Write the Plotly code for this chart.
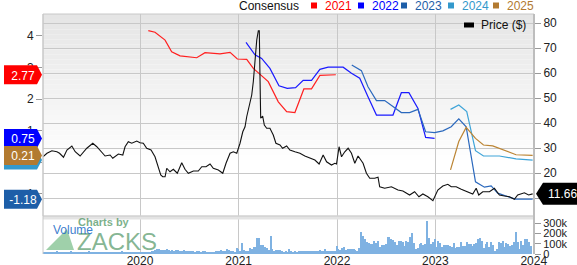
import numpy as np
import pandas as pd
import plotly.graph_objects as go

# ---------------- DATA (times in decimal years) ----------------
eps_2021_t = [2020.084, 2020.152, 2020.254, 2020.321, 2020.406, 2020.575, 2020.659, 2020.811, 2020.913, 2020.987,
              2021.082, 2021.149, 2021.301, 2021.403, 2021.488, 2021.572, 2021.663, 2021.741, 2021.826, 2021.988]
eps_2021_v = [4.17, 4.12, 3.87, 3.50, 3.37, 3.31, 3.47, 3.43, 3.48, 3.27,
              3.26, 2.97, 2.55, 1.91, 1.60, 1.57, 2.32, 2.32, 2.75, 2.77]

eps_2022_t = [2021.075, 2021.166, 2021.234, 2021.318, 2021.410, 2021.494, 2021.579, 2021.656, 2021.741, 2021.826,
              2021.910, 2022.062, 2022.147, 2022.231, 2022.315, 2022.401, 2022.569, 2022.654, 2022.731, 2022.823,
              2022.901, 2022.992]
eps_2022_v = [3.80, 3.40, 3.29, 2.97, 2.42, 2.34, 2.36, 2.59, 2.59, 2.94,
              3.01, 3.01, 2.82, 2.66, 2.07, 1.49, 1.49, 2.20, 2.20, 1.70,
              0.78, 0.75]

eps_2023_t = [2022.150, 2022.248, 2022.315, 2022.401, 2022.485, 2022.654, 2022.738, 2022.823, 2022.901, 2022.992,
              2023.076, 2023.161, 2023.238, 2023.313, 2023.408, 2023.499, 2023.567, 2023.634, 2023.719, 2023.813,
              2023.989]
eps_2023_v = [3.08, 2.90, 2.39, 1.95, 1.95, 1.57, 1.57, 1.67, 0.96, 0.93,
              0.99, 1.12, 1.37, 1.12, -0.63, -0.80, -0.76, -0.99, -1.08, -1.18,
              -1.18]

eps_2024_t = [2023.154, 2023.238, 2023.319, 2023.408, 2023.489, 2023.651, 2023.820, 2023.989]
eps_2024_v = [1.67, 1.81, 1.60, 0.36, 0.19, 0.19, 0.10, 0.06]

eps_2025_t = [2023.154, 2023.238, 2023.313, 2023.408, 2023.489, 2023.583, 2023.820, 2023.989]
eps_2025_v = [-0.25, 0.65, 1.10, 0.75, 0.54, 0.51, 0.23, 0.21]

price_t = [2019.013, 2019.054, 2019.104, 2019.155, 2019.182, 2019.222, 2019.257, 2019.307, 2019.341, 2019.391,
           2019.459, 2019.520, 2019.561, 2019.612, 2019.645, 2019.696, 2019.723, 2019.780, 2019.825, 2019.848,
           2019.881, 2019.916, 2019.967, 2020.000, 2020.033, 2020.068, 2020.112, 2020.152, 2020.186, 2020.210,
           2020.230, 2020.254, 2020.271, 2020.304, 2020.338, 2020.378, 2020.423, 2020.456, 2020.490, 2020.541,
           2020.591, 2020.626, 2020.669, 2020.710, 2020.743, 2020.794, 2020.839, 2020.872, 2020.913, 2020.946,
           2020.981, 2021.014, 2021.042, 2021.065, 2021.082, 2021.109, 2021.133, 2021.149, 2021.166, 2021.184,
           2021.200, 2021.210, 2021.217, 2021.224, 2021.244, 2021.261, 2021.285, 2021.318, 2021.352, 2021.379,
           2021.420, 2021.447, 2021.488, 2021.521, 2021.572, 2021.623, 2021.673, 2021.724, 2021.775, 2021.818,
           2021.859, 2021.894, 2021.944, 2021.978, 2021.995, 2022.021, 2022.046, 2022.079, 2022.113, 2022.147,
           2022.181, 2022.214, 2022.265, 2022.299, 2022.333, 2022.383, 2022.417, 2022.434, 2022.485, 2022.553,
           2022.620, 2022.670, 2022.738, 2022.789, 2022.833, 2022.873, 2022.924, 2022.975, 2023.025, 2023.076,
           2023.127, 2023.161, 2023.212, 2023.263, 2023.330, 2023.380, 2023.415, 2023.441, 2023.482, 2023.550,
           2023.600, 2023.651, 2023.702, 2023.753, 2023.803, 2023.837, 2023.905, 2023.948, 2023.989]
price_v = [26.5, 27.9, 28.9, 28.5, 27.9, 26.3, 29.2, 30.8, 28.5, 26.8,
           29.9, 31.9, 30.5, 28.5, 26.8, 27.2, 25.9, 27.6, 27.2, 30.5,
           32.5, 31.9, 32.8, 32.1, 31.9, 29.9, 29.2, 26.5, 22.5, 19.2,
           18.5, 18.5, 21.9, 20.5, 21.5, 19.9, 24.1, 21.5, 19.9, 20.8,
           20.8, 22.5, 22.5, 23.6, 21.9, 21.2, 19.9, 23.9, 27.9, 28.5,
           27.9, 31.9, 36.5, 38.5, 42.5, 47.9, 51.2, 56.5, 65.2, 73.2,
           76.9, 76.9, 58.5, 41.9, 42.8, 39.2, 37.9, 37.9, 35.2, 31.9,
           31.2, 29.9, 30.8, 29.2, 28.5, 27.9, 26.8, 25.9, 25.2, 23.6,
           27.2, 24.5, 23.2, 23.9, 23.6, 30.5, 26.5, 28.5, 29.9, 27.9,
           23.9, 26.8, 23.9, 19.9, 17.9, 17.9, 18.3, 14.5, 13.9, 14.5,
           13.2, 12.8, 11.2, 12.5, 10.5, 11.6, 10.5, 8.9, 13.2, 14.8,
           15.5, 14.5, 14.5, 13.5, 12.5, 11.6, 13.9, 11.2, 12.5, 12.5,
           13.9, 11.2, 10.8, 10.5, 9.5, 11.2, 12.1, 11.2, 11.66]

# weekly volume (thousands of shares), first week 2019-01-04
volume_start = "2019-01-04"
vol_2019 = [15, 12, 18, 10, 14, 22, 12, 16, 25, 14, 10, 18, 20, 12, 15, 28, 14, 12, 16, 10,
            13, 18, 22, 15, 12, 30, 16, 14, 12, 18, 15, 11, 20, 14, 24, 13, 12, 17, 15, 10,
            14, 19, 26, 13, 15, 12, 18, 22, 16, 14, 12, 15, 20, 13, 17, 14, 12, 18, 25, 30]
vol_2020 = [38, 45, 52, 40, 36, 42, 48, 35, 30, 38, 33, 40, 36, 28, 32, 38, 30, 26, 34, 30,
            28, 24, 30, 26, 22, 28, 25]
vol_2021 = [16, 20, 13, 16, 20, 26, 33, 26, 39, 33, 26, 49, 39, 33, 26, 20, 59, 49, 26, 105,
            39, 26, 33, 59, 49, 72, 65, 157, 157, 88, 88, 72, 59, 39, 180, 49, 33, 39, 39, 39,
            26, 20, 26, 20, 49, 33, 20, 26, 20, 26, 30, 26, 33, 33, 33, 26, 33, 33, 33, 26,
            39, 33, 26, 49, 33, 33, 26, 33, 26, 82, 49, 39, 59, 65, 39, 46, 49, 49, 49, 39,
            33, 59, 212, 180, 147]
vol_2023 = [114, 105, 98, 98, 131, 108, 124, 72, 92, 92, 98, 164, 164, 147, 137, 114, 92, 124, 131, 114,
            82, 124, 114, 164, 209, 105, 49, 62, 98, 108, 88, 95, 320, 154, 98, 114, 147, 65, 124, 108,
            72, 90, 88, 92, 78, 65, 105, 56, 70, 65, 114, 82, 82, 114, 98, 100, 82, 98, 105, 147,
            154, 131, 59, 98, 114, 72, 114, 92, 33, 49, 114, 105, 124, 65, 105, 98, 82, 92, 114, 212,
            114, 49, 131, 92, 147, 147, 120, 82]

eps_ticks = [-1, 0, 1, 2, 3, 4]
price_ticks = [10, 20, 30, 40, 50, 60, 70, 80]
price_tick_labels = ["", "20", "30", "40", "50", "60", "70", "80"]
vol_ticks = [0, 100000, 200000, 300000]
vol_tick_labels = ["0", "100k", "200k", "300k"]
year_ticks = ["2020-01-01", "2021-01-01", "2022-01-01", "2023-01-01", "2024-01-01"]
year_labels = ["2020", "2021", "2022", "2023", "2024"]

series_names = ["2021", "2022", "2023", "2024", "2025"]
series_colors = ["#ff2020", "#1a1aff", "#2a68bd", "#3ea4d8", "#bb8433"]
callout_colors = ["#ff0000", "#0000ff", "#1d5ea8", "#3399cc", "#b27a30"]
callout_labels = ["2.77", "0.75", "-1.18", "0.06", "0.21"]
price_last_label = "11.66"

# ---------------- helpers ----------------
def to_date(t):
    y = int(np.floor(t))
    s = pd.Timestamp(year=y, month=1, day=1)
    e = pd.Timestamp(year=y + 1, month=1, day=1)
    return s + (e - s) * (t - y)

def dates(ts):
    return [to_date(t) for t in ts]

W, H = 577, 265
ML, MR, MT, MB = 43, 43, 14, 11
PW, PH = W - ML - MR, H - MT - MB

def px(xp):
    return (xp - ML) / PW

def py(yp):
    return (H - MB - yp) / PH

price_dom = [py(216), 1.0]
vol_dom = [0.0, py(219)]

FONT = "Liberation Sans, Arial, sans-serif"

fig = go.Figure()

vol = [v * 1000 for v in vol_2019 + vol_2020 + vol_2021 + vol_2023]
vol_dates = pd.date_range(volume_start, periods=len(vol), freq="7D")
fig.add_trace(go.Bar(x=vol_dates, y=vol, yaxis="y3", marker=dict(color="#7fb2e2", line=dict(width=0)),
                     width=5 * 24 * 3600 * 1000, hoverinfo="skip"))

eps_sets = [(eps_2021_t, eps_2021_v), (eps_2022_t, eps_2022_v), (eps_2023_t, eps_2023_v),
            (eps_2024_t, eps_2024_v), (eps_2025_t, eps_2025_v)]
for (t, v), c, n in zip(eps_sets, series_colors, series_names):
    fig.add_trace(go.Scatter(x=dates(t), y=v, mode="lines", line=dict(color=c, width=1.2), name=n, yaxis="y"))

fig.add_trace(go.Scatter(x=dates(price_t), y=price_v, mode="lines", line=dict(color="#111111", width=1.1),
                         name="Price ($)", yaxis="y2"))

shapes = []
# gradient background of price panel
N = 40
top, bot = price_dom[1], price_dom[0]
for i in range(N):
    f0 = i / N
    f = min(1.0, (i + 0.5) / N / 0.75)
    g = int(round(229 + (255 - 229) * f))
    shapes.append(dict(type="rect", xref="paper", yref="paper", x0=0, x1=1,
                       y0=top - (i + 1) / N * (top - bot), y1=top - f0 * (top - bot),
                       fillcolor=f"rgb({g},{g},{g})", line=dict(width=0), layer="below"))
# separator band
shapes.append(dict(type="rect", xref="paper", yref="paper", x0=0, x1=1, y0=py(219.5), y1=py(215.5),
                   fillcolor="#e3e3e3", line=dict(width=0), layer="above"))
# frame
shapes.append(dict(type="rect", xref="paper", yref="paper", x0=0, x1=1, y0=price_dom[0], y1=1,
                   line=dict(color="#c8c8c8", width=1), layer="above"))
shapes.append(dict(type="line", xref="paper", yref="paper", x0=0, x1=0, y0=0, y1=1,
                   line=dict(color="#c8c8c8", width=1), layer="above"))
shapes.append(dict(type="line", xref="paper", yref="paper", x0=1, x1=1, y0=0, y1=1,
                   line=dict(color="#bdbdbd", width=2), layer="above"))

annotations = []
# left callouts (box + text drawn together so that later ones cover earlier ones)
last_vals = [eps_2021_v[-1], eps_2022_v[-1], eps_2023_v[-1], eps_2024_v[-1], eps_2025_v[-1]]
order = [0, 2, 3, 1, 4]
for k in order:
    shapes.append(dict(type="path", xref="paper", yref="y", xsizemode="pixel", ysizemode="pixel",
                       xanchor=0, yanchor=last_vals[k],
                       path="M -39,-9.5 L -6,-9.5 L -1,0 L -6,9.5 L -39,9.5 Z",
                       fillcolor=callout_colors[k], line=dict(width=0), layer="above",
                       label=dict(text=callout_labels[k], textposition="middle center",
                                  font=dict(family=FONT, size=12, color="white"))))
# right price callout
shapes.append(dict(type="path", xref="paper", yref="y2", xsizemode="pixel", ysizemode="pixel",
                   xanchor=1, yanchor=price_v[-1],
                   path="M 2,0 L 9,-11 L 50,-11 L 50,11 L 9,11 Z",
                   fillcolor="#000000", line=dict(width=0), layer="above"))
annotations.append(dict(xref="paper", yref="y2", x=px(546), y=price_v[-1], text=price_last_label,
                        showarrow=False, font=dict(family=FONT, size=12, color="white"),
                        xanchor="left", yanchor="middle"))

# top legend
annotations.append(dict(xref="paper", yref="paper", x=px(237), y=py(5.5), text="Consensus", showarrow=False,
                        font=dict(family=FONT, size=12, color="#111"), xanchor="left", yanchor="middle"))
legend_left = [323, 370, 413, 460, 505]
for n, c, xl in zip(series_names, callout_colors, legend_left):
    shapes.append(dict(type="rect", xref="paper", yref="paper", x0=px(xl - 12), x1=px(xl - 6),
                       y0=py(8.5), y1=py(2.5), fillcolor=c, line=dict(width=0)))
    annotations.append(dict(xref="paper", yref="paper", x=px(xl), y=py(5.5), text=n, showarrow=False,
                            font=dict(family=FONT, size=12, color=c), xanchor="left", yanchor="middle"))
# price legend
shapes.append(dict(type="rect", xref="paper", yref="paper", x0=px(464), x1=px(474), y0=py(27.5), y1=py(22.5),
                   fillcolor="#000", line=dict(width=0), layer="above"))
annotations.append(dict(xref="paper", yref="paper", x=px(479), y=py(25), text="Price ($)", showarrow=False,
                        font=dict(family=FONT, size=12, color="#111"), xanchor="left", yanchor="middle"))

# watermark + volume label
shapes.append(dict(type="path", xref="paper", yref="paper",
                   path=f"M {px(46)},{py(250)} L {px(74)},{py(250)} L {px(67)},{py(229)} Z",
                   fillcolor="rgba(80,170,100,0.55)", line=dict(width=0), layer="above"))
annotations.append(dict(xref="paper", yref="paper", x=px(104), y=py(222), text="<b>Charts by</b>",
                        showarrow=False, font=dict(family=FONT, size=11, color="rgba(80,150,100,0.75)"),
                        xanchor="center", yanchor="middle"))
annotations.append(dict(xref="paper", yref="paper", x=px(117), y=py(241.5), text="ZACKS",
                        showarrow=False, font=dict(family=FONT, size=24, color="rgba(80,150,100,0.7)"),
                        xanchor="center", yanchor="middle"))
annotations.append(dict(xref="paper", yref="paper", x=px(73), y=py(229.5), text="Volume",
                        showarrow=False, font=dict(family=FONT, size=12, color="rgba(30,110,200,0.9)"),
                        xanchor="center", yanchor="middle"))

fig.update_layout(
    template="none",
    width=W, height=H, margin=dict(l=ML, r=MR, t=MT, b=MB, autoexpand=False),
    paper_bgcolor="white", plot_bgcolor="white", showlegend=False, bargap=0,
    font=dict(family=FONT, size=12, color="#222"),
    xaxis=dict(type="date", range=["2019-01-06", "2024-01-02"], anchor="y3", automargin=False,
               tickvals=year_ticks, ticktext=year_labels, showgrid=True, gridcolor="#c8c8c8",
               gridwidth=1, ticks="", zeroline=False, showline=False, ticklabelstandoff=-2,
               tickfont=dict(family=FONT, size=12, color="#222")),
    yaxis=dict(domain=price_dom, range=[-1.714, 4.698], tickvals=eps_ticks, showgrid=False, automargin=False,
               zeroline=False, ticks="outside", ticklen=6, tickcolor="#999", side="left", showline=False,
               tickfont=dict(family=FONT, size=12, color="#222")),
    yaxis2=dict(domain=price_dom, range=[2.8, 83.6], overlaying="y", side="right", tickvals=price_ticks,
                ticktext=price_tick_labels, automargin=False, showline=False,
                showgrid=True, gridcolor="#c8c8c8", zeroline=False, ticks="outside", ticklen=6,
                tickcolor="#999", tickfont=dict(family=FONT, size=12, color="#222")),
    yaxis3=dict(domain=vol_dom, range=[0, 343000], side="right", tickvals=vol_ticks, automargin=False,
                ticktext=vol_tick_labels, showgrid=False, zeroline=False, ticks="outside", ticklen=6,
                showline=False, tickcolor="#999", tickfont=dict(family=FONT, size=11, color="#222")),
    shapes=shapes, annotations=annotations,
)

fig.write_html("out.html")
